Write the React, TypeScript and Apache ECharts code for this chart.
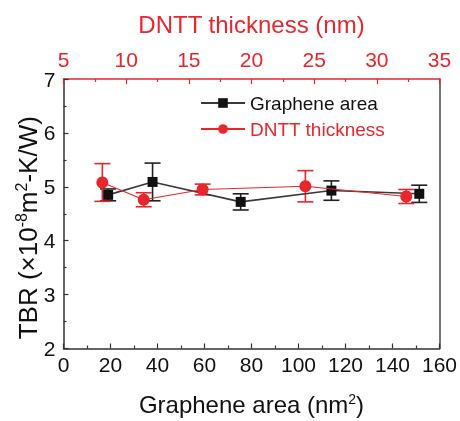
import React, { useEffect, useRef } from "react";
import * as echarts from "echarts";

const areaX = [19.0, 37.9, 75.4, 114.0, 151.4];
const areaTBR = [4.85, 5.09, 4.72, 4.93, 4.87];
const areaErr = [0.11, 0.35, 0.15, 0.18, 0.16];

const thickX = [8.1, 11.4, 16.1, 24.3, 32.35];
const thickTBR = [5.08, 4.76, 4.95, 5.01, 4.82];
const thickErr = [0.35, 0.13, 0.1, 0.29, 0.13];

const RED = "#e8262d";
const BLACK = "#111111";
const FONT = "Liberation Sans";

function errorSeries(xs: number[], ys: number[], es: number[], color: string, xi: number) {
  return {
    type: "custom",
    xAxisIndex: xi,
    yAxisIndex: 0,
    z: 3,
    silent: true,
    data: xs.map((x, i) => [x, ys[i], es[i]]),
    encode: { x: 0, y: 1 },
    renderItem: (params: any, api: any) => {
      const x = api.value(0);
      const y = api.value(1);
      const e = api.value(2);
      const t = api.coord([x, y + e]);
      const b = api.coord([x, y - e]);
      const hw = 8;
      const st = { stroke: color, lineWidth: 1.6 };
      return {
        type: "group",
        children: [
          { type: "line", shape: { x1: t[0], y1: t[1], x2: b[0], y2: b[1] }, style: st },
          { type: "line", shape: { x1: t[0] - hw, y1: t[1], x2: t[0] + hw, y2: t[1] }, style: st },
          { type: "line", shape: { x1: b[0] - hw, y1: b[1], x2: b[0] + hw, y2: b[1] }, style: st },
        ],
      };
    },
  };
}

export default function App() {
  const ref = useRef<HTMLDivElement>(null);
  useEffect(() => {
    if (!ref.current) return;
    const chart = echarts.init(ref.current, null, { renderer: "svg" });
    const sup = { fontSize: 14, verticalAlign: "bottom", padding: [0, 0, 11, 0] };
    const supY = { fontSize: 16, verticalAlign: "bottom", padding: [0, 0, 12, 0] };
    chart.setOption({
      animation: false,
      textStyle: { fontFamily: FONT },
      grid: { left: 63.5, right: 19.5, top: 79, bottom: 71, containLabel: false },
      legend: {
        orient: "vertical",
        left: 195,
        top: 88,
        itemWidth: 44,
        itemHeight: 12,
        itemGap: 6,
        textStyle: { fontSize: 19, fontFamily: FONT, lineHeight: 20 },
        data: [
          { name: "Graphene area", textStyle: { color: BLACK } },
          { name: "DNTT thickness", textStyle: { color: RED } },
        ],
      },
      xAxis: [
        {
          type: "value",
          position: "bottom",
          min: 0,
          max: 160,
          interval: 20,
          name: "Graphene area (nm{sup|2})",
          nameLocation: "middle",
          nameGap: 43,
          nameTextStyle: { fontSize: 24, color: BLACK, fontFamily: FONT, rich: { sup } },
          axisLine: { show: true, onZero: false, lineStyle: { color: "#333", width: 1.5 } },
          axisTick: { show: true, inside: true, length: 5, lineStyle: { color: "#333", width: 1.2 } },
          minorTick: { show: true, splitNumber: 2, length: 3, lineStyle: { color: "#333", width: 1.2 } },
          axisLabel: { fontSize: 21, color: BLACK, margin: 5, fontFamily: FONT },
          splitLine: { show: false },
        },
        {
          type: "value",
          position: "top",
          min: 5,
          max: 35,
          interval: 5,
          name: "DNTT thickness (nm)",
          nameLocation: "middle",
          nameGap: 43,
          nameTextStyle: { fontSize: 24, color: RED, fontFamily: FONT },
          axisLine: { show: true, onZero: false, lineStyle: { color: RED, width: 1.5 } },
          axisTick: { show: true, inside: true, length: 5, lineStyle: { color: RED, width: 1.2 } },
          minorTick: { show: true, splitNumber: 2, length: 3, lineStyle: { color: RED, width: 1.2 } },
          axisLabel: { fontSize: 21, color: RED, margin: 9, fontFamily: FONT },
          splitLine: { show: false },
        },
      ],
      yAxis: [
        {
          type: "value",
          position: "left",
          min: 2,
          max: 7,
          interval: 1,
          name: "TBR (×10{sup|-8}m{sup|2}-K/W)",
          nameLocation: "middle",
          nameRotate: 90,
          nameGap: 22,
          nameMoveOverlap: false,
          nameTextStyle: {
            fontSize: 26,
            color: BLACK,
            fontFamily: FONT,
            padding: [0, 28, 0, 0],
            rich: { sup: supY },
          },
          axisLine: { show: true, onZero: false, lineStyle: { color: "#333", width: 1.5 } },
          axisTick: { show: true, inside: true, length: 5, lineStyle: { color: "#333", width: 1.2 } },
          minorTick: { show: true, splitNumber: 2, length: 3, lineStyle: { color: "#333", width: 1.2 } },
          axisLabel: { fontSize: 21, color: BLACK, margin: 8, fontFamily: FONT },
          splitLine: { show: false },
        },
        {
          type: "value",
          position: "right",
          min: 2,
          max: 7,
          interval: 1,
          axisLine: { show: true, onZero: false, lineStyle: { color: "#444", width: 1.5 } },
          axisTick: { show: false },
          axisLabel: { show: false },
          splitLine: { show: false },
        },
      ],
      series: [
        errorSeries(areaX, areaTBR, areaErr, "#222", 0),
        {
          name: "Graphene area",
          type: "line",
          xAxisIndex: 0,
          yAxisIndex: 0,
          z: 4,
          data: areaX.map((x, i) => [x, areaTBR[i]]),
          symbol: "rect",
          symbolSize: 10,
          itemStyle: { color: BLACK },
          lineStyle: { color: "#3a3a3a", width: 1.6 },
        },
        errorSeries(thickX, thickTBR, thickErr, RED, 1),
        {
          name: "DNTT thickness",
          type: "line",
          xAxisIndex: 1,
          yAxisIndex: 0,
          z: 5,
          data: thickX.map((x, i) => [x, thickTBR[i]]),
          symbol: "circle",
          symbolSize: 12,
          itemStyle: { color: RED },
          lineStyle: { color: RED, width: 1.2 },
        },
      ],
    });
    return () => chart.dispose();
  }, []);
  return (
    <div
      ref={ref}
      style={{ position: "fixed", left: 0, top: 0, width: 460, height: 421 }}
    />
  );
}
